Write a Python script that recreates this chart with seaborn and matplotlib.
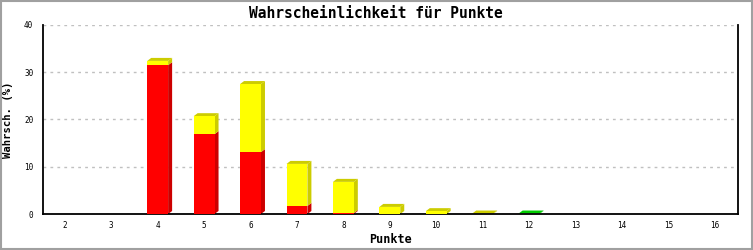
import matplotlib
matplotlib.use("Agg")
import matplotlib.pyplot as plt
from matplotlib.patches import Polygon, Rectangle
import seaborn as sns
import pandas as pd
import numpy as np

punkte = ["2", "3", "4", "5", "6", "7", "8", "9", "10", "11", "12", "13", "14", "15", "16"]
red_vals = [0, 0, 31.5, 16.9, 13.1, 1.7, 0.2, 0, 0, 0, 0, 0, 0, 0, 0]
yellow_vals = [0, 0, 0.9, 3.8, 14.4, 8.9, 6.6, 1.5, 0.6, 0.1, 0, 0, 0, 0, 0]
green_vals = [0, 0, 0, 0, 0, 0, 0, 0, 0, 0, 0.1, 0, 0, 0, 0]

title = "Wahrscheinlichkeit für Punkte"
xlabel = "Punkte"
ylabel = "Wahrsch. (%)"
yticks = [0, 10, 20, 30, 40]

sns.set_style("white")
plt.rcParams["font.family"] = ["DejaVu Sans Mono"]
plt.rcParams["text.color"] = "black"
plt.rcParams["axes.labelcolor"] = "black"
plt.rcParams["xtick.color"] = "black"
plt.rcParams["ytick.color"] = "black"

W, H = 753, 250
fig = plt.figure(figsize=(W / 100, H / 100), dpi=100)
ax_left, ax_right, ax_top, ax_bottom = 43, 738, 25, 214
ax = fig.add_axes([ax_left / W, 1 - ax_bottom / H, (ax_right - ax_left) / W, (ax_bottom - ax_top) / H])

df = pd.DataFrame({"Punkte": punkte, "rot": red_vals, "gelb": yellow_vals, "gruen": green_vals})
df["ry"] = df["rot"] + df["gelb"]
df["total"] = df["ry"] + df["gruen"]

layers = [("total", "#00cc00"), ("ry", "#ffff00"), ("rot", "#ff0000")]
for col, c in layers:
    sns.barplot(data=df, x="Punkte", y=col, order=punkte, color=c, width=0.45,
                saturation=1, ax=ax, linewidth=0, zorder=3)

ax.set_xlim(-0.47, 14.5)
ax.set_ylim(0, 40)

# 3D depth in data units (4 px right, 3 px up)
xr = ax.get_xlim()[1] - ax.get_xlim()[0]
dx = 4 * xr / (ax_right - ax_left)
dy = 3 * 40 / (ax_bottom - ax_top)

n = len(punkte)
tot_p = ax.patches[0:n]
side_cols = {"r": "#cc0000", "y": "#cccc00", "g": "#00cc00"}
for i in range(n):
    p = tot_p[i]
    x0 = p.get_x()
    x1 = x0 + p.get_width()
    segs = []
    b = 0
    for v, k in ((red_vals[i], "r"), (yellow_vals[i], "y"), (green_vals[i], "g")):
        if v > 0:
            segs.append((b, b + v, k))
            b += v
    for (sb, st, k) in segs:
        ax.add_patch(Polygon([(x1, sb), (x1 + dx, sb + dy), (x1 + dx, st + dy), (x1, st)],
                             closed=True, facecolor=side_cols[k], edgecolor="none", zorder=2))
    if segs:
        st, k = segs[-1][1], segs[-1][2]
        ax.add_patch(Polygon([(x0, st), (x0 + dx, st + dy), (x1 + dx, st + dy), (x1, st)],
                             closed=True, facecolor=side_cols[k], edgecolor="none", zorder=2))

ax.set_yticks(yticks)
ax.set_yticklabels([str(v) for v in yticks], fontsize=5.5)
ax.set_xticks(range(n))
ax.set_xticklabels(punkte, fontsize=5.5)
ax.tick_params(axis="y", direction="inout", length=8, width=1, pad=3, colors="black")
ax.tick_params(axis="x", length=0, pad=5, colors="black")
ax.yaxis.grid(True, linestyle=(0, (2, 3)), color="#c0c0c0", linewidth=1, zorder=0)
ax.xaxis.grid(False)
ax.set_axisbelow(True)

for s in ("left", "bottom", "right"):
    ax.spines[s].set_visible(True)
    ax.spines[s].set_color("black")
    ax.spines[s].set_linewidth(1.3)
ax.spines["top"].set_visible(False)

ax.set_xlabel(xlabel, fontsize=8.5, fontweight="bold", labelpad=2)
ax.set_ylabel(ylabel, fontsize=7.6, fontweight="bold", labelpad=8)
fig.text(376 / W, 1 - 14 / H, title, ha="center", va="center",
         fontsize=10.5, fontweight="bold")

fig.patches.append(Rectangle((0.001, 0.004), 0.9975, 0.993, transform=fig.transFigure,
                             fill=False, edgecolor="#a0a0a0", linewidth=1.5))

fig.savefig("out.png", dpi=100)
